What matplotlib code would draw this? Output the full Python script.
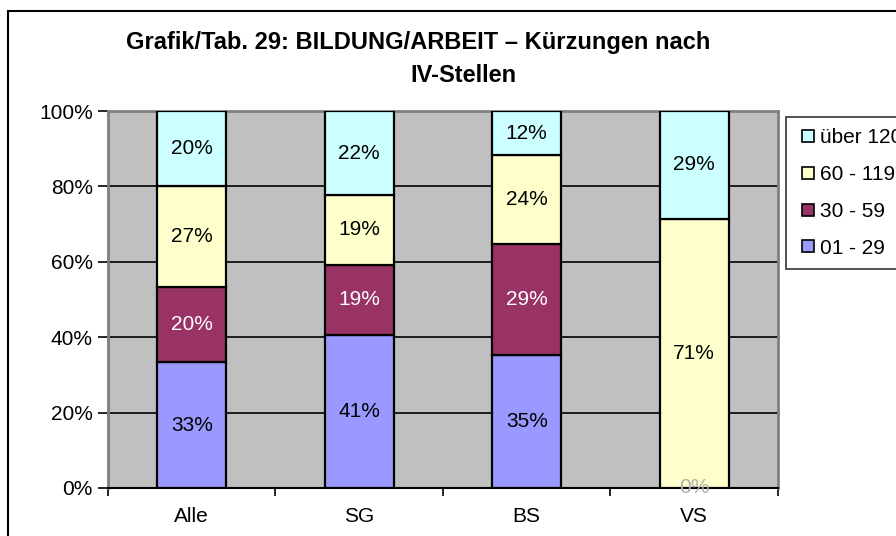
import matplotlib.pyplot as plt
from matplotlib.patches import Rectangle
from matplotlib.lines import Line2D
import numpy as np

plt.rcParams['font.family'] = ['Liberation Sans', 'DejaVu Sans']

categories = ['Alle', 'SG', 'BS', 'VS']
series_names = ['01 - 29', '30 - 59', '60 - 119', 'über 120']
# shares in percent, per category
v_01_29 = [33.3, 40.7, 35.3, 0.0]
v_30_59 = [20.0, 18.5, 29.4, 0.0]
v_60_119 = [26.7, 18.5, 23.5, 71.4]
v_ueber_120 = [20.0, 22.2, 11.8, 28.6]
labels_01_29 = ['33%', '41%', '35%', '0%']
labels_30_59 = ['20%', '19%', '29%', '']
labels_60_119 = ['27%', '19%', '24%', '71%']
labels_ueber_120 = ['20%', '22%', '12%', '29%']

colors = ['#9999FF', '#993366', '#FFFFCC', '#CCFFFF']
text_colors = ['black', 'white', 'black', 'black']

fig = plt.figure(figsize=(8.96, 5.36), dpi=100)
ax = fig.add_axes([0.1205, 0.0896, 0.7478, 0.7033])
ax.set_facecolor('#C0C0C0')

x = np.arange(len(categories))
bottom = np.zeros(len(categories))
all_vals = [v_01_29, v_30_59, v_60_119, v_ueber_120]
all_labels = [labels_01_29, labels_30_59, labels_60_119, labels_ueber_120]
for vals, labs, col, tcol in zip(all_vals, all_labels, colors, text_colors):
    vals = np.array(vals)
    ax.bar(x, vals, width=0.41, bottom=bottom, color=col, edgecolor='black',
           linewidth=1.6, zorder=3)
    for xi, b, v, lab in zip(x, bottom, vals, labs):
        if lab == '':
            continue
        c = tcol if v > 0 else '#B0B0B0'
        yy = b + v / 2 if v > 0 else 0
        ax.text(xi, yy, lab, ha='center', va='center', fontsize=15, color=c, zorder=4)
    bottom += vals

ax.set_xlim(-0.5, 3.5)
ax.set_ylim(0, 100)
ax.set_yticks([0, 20, 40, 60, 80, 100])
ax.set_yticklabels(['0%', '20%', '40%', '60%', '80%', '100%'], fontsize=15)
ax.yaxis.grid(True, color='black', linewidth=1.2, zorder=1)
ax.set_axisbelow(True)
ax.tick_params(axis='y', length=7, width=1.2, pad=4)

ax.set_xticks(x)
ax.set_xticklabels(categories, fontsize=15)
ax.tick_params(axis='x', length=0, pad=14)
ax.set_xticks(np.arange(-0.5, 4.0, 1.0), minor=True)
ax.tick_params(axis='x', which='minor', length=6, width=1.2)

for side in ['top', 'right', 'left']:
    ax.spines[side].set_color('#808080')
    ax.spines[side].set_linewidth(2)
ax.spines['bottom'].set_color('black')
ax.spines['bottom'].set_linewidth(1.5)

# outer chart frame
fig.patches.append(Rectangle((8 / 896, -0.1), 1.2, (536 - 11) / 536 + 0.1,
                             transform=fig.transFigure, fill=False,
                             edgecolor='black', linewidth=1.5))

fig.text(418 / 896, 1 - 42 / 536, 'Grafik/Tab. 29: BILDUNG/ARBEIT – Kürzungen nach',
         ha='center', va='center', fontsize=17, fontweight='bold')
fig.text(463 / 896, 1 - 76 / 536, 'IV-Stellen',
         ha='center', va='center', fontsize=17, fontweight='bold')

handles = [Line2D([0], [0], marker='s', linestyle='', markersize=9,
                  markerfacecolor=c, markeredgecolor='black', markeredgewidth=1.2)
           for c in colors[::-1]]
leg = fig.legend(handles, series_names[::-1], loc='upper left',
                 bbox_to_anchor=(786 / 896, 1 - 117 / 536), fontsize=15,
                 frameon=True, fancybox=False, edgecolor='black',
                 handletextpad=0.1, labelspacing=0.85, borderpad=0.55,
                 handlelength=1.0, borderaxespad=0)
leg.get_frame().set_linewidth(1.2)

fig.savefig('out.png', dpi=100)
